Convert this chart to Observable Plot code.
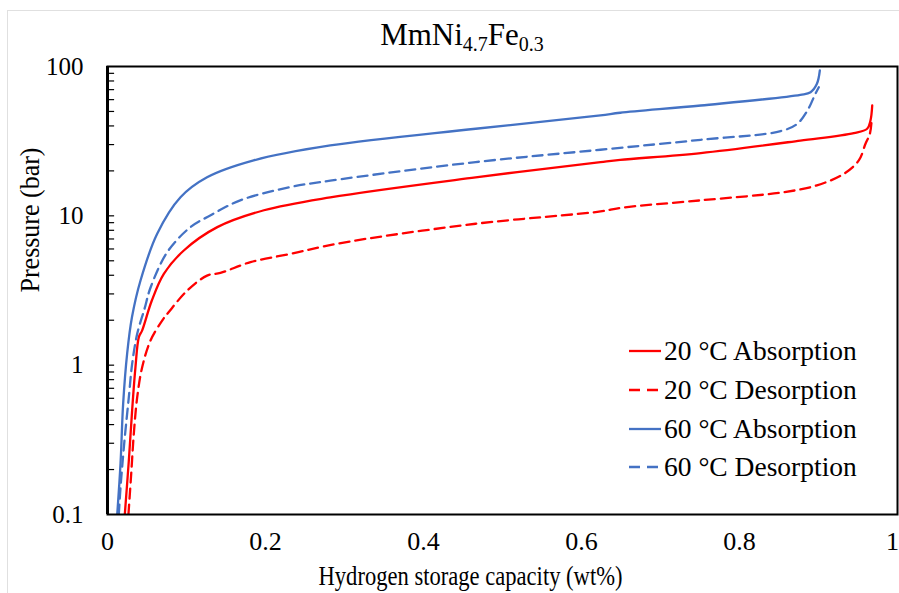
<!DOCTYPE html>
<html><head><meta charset="utf-8">
<script src="https://cdn.jsdelivr.net/npm/d3@7"></script>
<script src="https://cdn.jsdelivr.net/npm/@observablehq/plot@0.6"></script>
<style>
body{margin:0;background:#fff;color:#000;}
#wrap{position:relative;width:899px;height:593px;overflow:hidden;font-family:"Liberation Serif","Times New Roman",serif;}
#border{position:absolute;left:7px;top:10px;width:1000px;height:1000px;border-left:1px solid #e0e0e0;border-top:1px solid #e0e0e0;}
#title{position:absolute;left:0;width:924px;top:19px;text-align:center;font-size:31px;line-height:31px;}
#title sub{font-size:20px;vertical-align:-6px;line-height:0;}
#chart{position:absolute;left:0;top:0;}
#legend{position:absolute;left:628px;top:332px;font-size:27.5px;}
#legend .row{height:38.7px;display:flex;align-items:center;white-space:nowrap;}
#legend svg{margin-right:3px;}
</style>
</head><body>
<div id="wrap">
  <div id="border"></div>
  <div id="chart"></div>
  <div id="title">MmNi<sub>4.7</sub>Fe<sub>0.3</sub></div>
  <div id="legend"></div>
</div>
<script>
// 20 °C Absorption
const a20_wt = [0.0219, 0.027, 0.0312, 0.0354, 0.0397, 0.0439, 0.056, 0.0713, 0.0966, 0.139, 0.198, 0.282, 0.466, 0.624, 0.649, 0.751, 0.877, 0.9447, 0.9616, 0.9658, 0.968];
const a20_p  = [0.1,    0.23,  0.50,   0.97,   1.54,   1.71,   2.7,   4.09,   5.86,   8.4,   10.9,  13.3,  18.1,  22.9,  23.7,  26.3,  31.9,  35.8,   38.3,   43.5,   54.8];
// 20 °C Desorption
const d20_wt = [0.0265, 0.030, 0.0333, 0.0376, 0.0439, 0.0544, 0.0692, 0.0776, 0.101, 0.126, 0.143, 0.181, 0.232, 0.29, 0.466, 0.624, 0.649, 0.751, 0.856, 0.898, 0.932, 0.951, 0.9595, 0.965, 0.967];
const d20_p  = [0.1,    0.187, 0.347,  0.61,   0.97,   1.46,   1.99,   2.27,   3.16,  3.98,  4.15,  4.9,   5.57,  6.5,  8.85,  10.7,  11.3,  12.7,  14.4,  16.0,  19.1,  23.5,  30.4,   35.4,  42];
// 60 °C Absorption
const a60_wt = [0.0123, 0.0165, 0.0198, 0.0249, 0.031, 0.0418, 0.0629, 0.0924, 0.126, 0.185, 0.282, 0.466, 0.624, 0.649, 0.751, 0.877, 0.890, 0.898, 0.9017];
const a60_p  = [0.1,    0.22,   0.55,   1.2,    2.1,   3.69,   7.58,   13.3,   18.1,  23.5,  29.6,  38.3,  47.0,  49.0,  54.8,  64.6,  67.3,  76.6,  94];
// 60 °C Desorption
const d60_wt = [0.0143, 0.0165, 0.0215, 0.027, 0.0312, 0.0376, 0.047, 0.0544, 0.0756, 0.105, 0.130, 0.168, 0.232, 0.282, 0.466, 0.624, 0.751, 0.852, 0.873, 0.886, 0.896, 0.9004];
const d60_p  = [0.1,    0.152,  0.313,  0.61,  1.02,   1.62,   2.4,   3.3,    5.71,   8.4,   10.05, 12.7,  15.6,  17.2,  22.9,  27.7,  32.3,  36.9,  41.3,  50.7,  65.6,  72.7];

const seriesNames = ["20 °C Absorption", "20 °C Desorption", "60 °C Absorption", "60 °C Desorption"];
const seriesColors = ["#FF0000", "#FF0000", "#4472C4", "#4472C4"];
const seriesDash = [null, "10,6", null, "10,6"];
const xTicks = [0, 0.2, 0.4, 0.6, 0.8];
const xTickLast = [1];
const yTicks = [0.1, 1, 10, 100];
const yMinor = [0.2,0.3,0.4,0.5,0.6,0.7,0.8,0.9,1,2,3,4,5,6,7,8,9,10,20,30,40,50,60,70,80,90];
const xLabel = "Hydrogen storage capacity (wt%)";
const yLabel = "Pressure (bar)";

const zip = (w, p) => w.map((v, i) => ({wt: v, p: p[i]}));
const series = [zip(a20_wt, a20_p), zip(d20_wt, d20_p), zip(a60_wt, a60_p), zip(d60_wt, d60_p)];

const font = '"Liberation Serif","Times New Roman",serif';
const chart = Plot.plot({
  width: 899, height: 593,
  marginLeft: 107, marginTop: 66, marginRight: 2, marginBottom: 79,
  style: {fontFamily: font, background: "transparent", color: "#000", overflow: "visible"},
  x: {domain: [0, 1]},
  y: {type: "log", domain: [0.1, 100]},
  marks: [
    ...series.map((s, i) => Plot.line(s, {x: "wt", y: "p", stroke: seriesColors[i], strokeWidth: 2.3, strokeDasharray: seriesDash[i] || undefined, curve: "catmull-rom", clip: true})),
    Plot.ruleY(yMinor, {x1: 0, x2: 0.009, stroke: "#000", strokeWidth: 1.2}),
    Plot.frame({stroke: "#000", strokeWidth: 2}),
    Plot.ruleX([0], {stroke: "#000", strokeWidth: 3}),
    Plot.axisY({ticks: yTicks, tickFormat: d => `${d}`, tickSize: 0, tickPadding: 24, fontSize: 25, label: null}),
    Plot.axisX({ticks: xTicks, tickFormat: d => `${d}`, tickSize: 0, tickPadding: 17, fontSize: 26, label: null}),
    Plot.axisX({ticks: xTickLast, tickFormat: d => `${d}`, tickSize: 0, tickPadding: 17, fontSize: 26, dx: -5, label: null}),
    Plot.text([xLabel], {text: d => d, frameAnchor: "bottom", dx: -32, dy: 70, lineAnchor: "bottom", fontSize: 27}),
    Plot.text([yLabel], {text: d => d, frameAnchor: "left", rotate: -90, dx: -77, dy: 2, lineAnchor: "middle", fontSize: 27})
  ]
});
document.getElementById("chart").appendChild(chart);

// Narrow the axis titles to the reference's condensed lettering
chart.querySelectorAll("text").forEach(t => {
  if (t.textContent === xLabel) { t.setAttribute("textLength", "304"); t.setAttribute("lengthAdjust", "spacingAndGlyphs"); }
  if (t.textContent === yLabel) { t.setAttribute("textLength", "145"); t.setAttribute("lengthAdjust", "spacingAndGlyphs"); }
});

const leg = document.getElementById("legend");
seriesNames.forEach((n, i) => {
  const row = document.createElement("div");
  row.className = "row";
  row.innerHTML = `<svg width="33" height="10"><line x1="1" y1="5" x2="33" y2="5" stroke="${seriesColors[i]}" stroke-width="2.3" ${seriesDash[i] ? 'stroke-dasharray="11,7"' : ''}/></svg><span>${n}</span>`;
  leg.appendChild(row);
});
</script>
</body></html>
